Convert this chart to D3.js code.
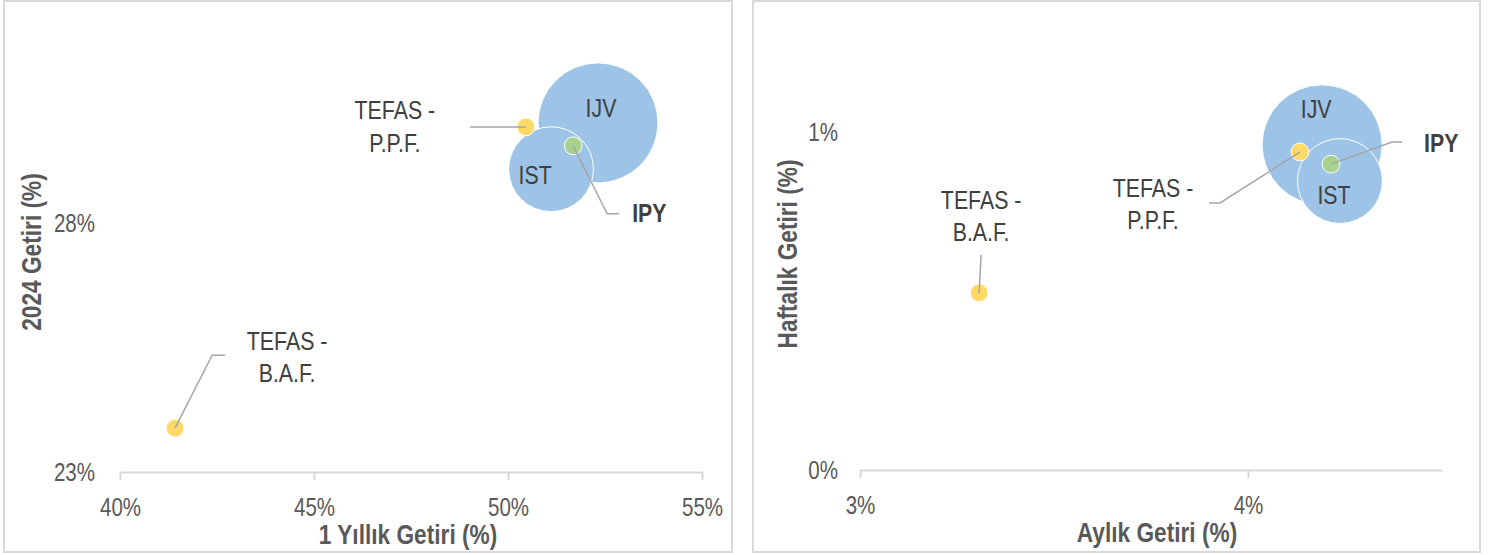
<!DOCTYPE html>
<html>
<head>
<meta charset="utf-8">
<script src="https://cdn.jsdelivr.net/npm/d3@7"></script>
<style>
  body { margin: 0; background: #fff; }
  svg text { font-family: "Liberation Sans", Arial, sans-serif; }
</style>
</head>
<body>
<div id="chart"></div>
<script>
// fund names and returns (fractions)
var funds    = ["TEFAS - B.A.F.", "TEFAS - P.P.F.", "IJV", "IST", "IPY"];
var yearly   = [0.4142, 0.5046, 0.5232, 0.5111, 0.5168];   // 1 Yıllık Getiri
var ytd2024  = [0.2388, 0.2993, 0.3001, 0.2908, 0.2955];   // 2024 Getiri
var monthly  = [0.03307, 0.04134, 0.04191, 0.04237, 0.04214]; // Aylık Getiri
var weekly   = [0.00524, 0.00941, 0.00962, 0.00855, 0.00905]; // Haftalık Getiri
var sizes    = [2.2, 2.2, 100, 50, 2.2];                    // bubble size
var kinds    = ["tefas", "tefas", "etf", "etf", "ipy"];

var leftXTicks  = [0.40, 0.45, 0.50, 0.55];
var leftYTicks  = [0.23, 0.28];
var rightXTicks = [0.03, 0.04];
var rightYTicks = [0, 0.01];

var colour = { tefas: "#ffd966", etf: "#9dc3e6", ipy: "#a9d18e" };

var width = 1494, height = 555;

var svg = d3.select("#chart").append("svg")
    .attr("width", width)
    .attr("height", height);

var rScale = d3.scaleSqrt().domain([0, 100]).range([0, 60]);

// label placement, pixel offsets from each bubble centre
var leftLabels = [
  { lines: ["TEFAS -", "B.A.F."], dx: 112, dy: [-87, -55], anchor: "middle", leader: [[37, -73], [50, -73]] },
  { lines: ["TEFAS -", "P.P.F."], dx: -131, dy: [-17, 16], anchor: "middle", leader: [[-56, 0]] },
  { lines: ["IJV"], dx: 3, dy: [-15], anchor: "middle" },
  { lines: ["IST"], dx: -16, dy: [6], anchor: "middle" },
  { lines: ["IPY"], dx: 59, dy: [67], anchor: "start", bold: true, leader: [[34, 68], [46, 68]] }
];
var rightLabels = [
  { lines: ["TEFAS -", "B.A.F."], dx: 2, dy: [-93, -61], anchor: "middle", leader: [[2, -38]] },
  { lines: ["TEFAS -", "P.P.F."], dx: -147, dy: [36, 68], anchor: "middle", leader: [[-80, 51], [-91, 51]] },
  { lines: ["IJV"], dx: -6, dy: [-36], anchor: "middle" },
  { lines: ["IST"], dx: -6, dy: [14], anchor: "middle" },
  { lines: ["IPY"], dx: 93, dy: [-21], anchor: "start", bold: true, leader: [[61, -22], [71, -22]] }
];

// Liberation Sans squeezed sideways, to look like the narrow font of the original
function narrowText(g, x, y, squeeze, rot) {
  return g.append("text")
    .attr("transform", "translate(" + x + "," + y + ")" + (rot ? " rotate(" + rot + ")" : "") + " scale(" + squeeze + ",1)");
}

function drawPanel(opt) {
  var g = svg.append("g");

  g.append("rect")
    .attr("x", opt.box[0]).attr("y", opt.box[1])
    .attr("width", opt.box[2]).attr("height", opt.box[3])
    .attr("fill", "#fff")
    .attr("stroke", "#d9d9d9")
    .attr("stroke-width", 2);

  var x = d3.scaleLinear().domain(opt.xDomain).range(opt.xRange);
  var y = d3.scaleLinear().domain(opt.yDomain).range(opt.yRange);
  var fmt = d3.format(".0%");
  var tickSq = 0.79;

  var xAxis = g.append("g")
    .attr("transform", "translate(0," + opt.yRange[0] + ")")
    .call(d3.axisBottom(x).tickValues(opt.xTicks).tickFormat(fmt)
      .tickSizeInner(8).tickSizeOuter(0).tickPadding(opt.xPad));
  xAxis.select(".domain").attr("stroke", "#d9d9d9").attr("stroke-width", 2);
  xAxis.selectAll(".tick line").attr("stroke", "#d9d9d9").attr("stroke-width", 2);
  xAxis.selectAll("text")
    .attr("fill", "#595959").style("font-size", "26px")
    .attr("transform", "scale(" + tickSq + ",1)");

  var yAxis = g.append("g")
    .attr("transform", "translate(" + opt.xRange[0] + ",0)")
    .call(d3.axisLeft(y).tickValues(opt.yTicks).tickFormat(fmt)
      .tickSize(0).tickPadding(opt.yPad));
  yAxis.select(".domain").remove();
  yAxis.selectAll("text")
    .attr("fill", "#595959").style("font-size", "26px")
    .attr("x", -opt.yPad / tickSq)
    .attr("transform", "scale(" + tickSq + ",1)");

  // axis titles
  narrowText(g, opt.xTitle[0], opt.xTitle[1], 0.84)
    .attr("text-anchor", "middle")
    .attr("fill", "#595959")
    .style("font-size", "27px").style("font-weight", "bold")
    .text(opt.xLabel);
  narrowText(g, opt.yTitle[0], opt.yTitle[1], 0.84, -90)
    .attr("text-anchor", "middle")
    .attr("dy", "0.35em")
    .attr("fill", "#595959")
    .style("font-size", "27px").style("font-weight", "bold")
    .text(opt.yLabel);

  var points = funds.map(function(d, i) {
    return { name: d, x: opt.xs[i], y: opt.ys[i], size: sizes[i], kind: kinds[i], label: opt.labels[i] };
  });
  var sorted = points.slice().sort(function(a, b) { return b.size - a.size; });

  g.selectAll("circle.bubble")
    .data(sorted)
    .enter().append("circle")
    .attr("class", "bubble")
    .attr("cx", function(d) { return x(d.x); })
    .attr("cy", function(d) { return y(d.y); })
    .attr("r", function(d) { return rScale(d.size); })
    .attr("fill", function(d) { return colour[d.kind]; })
    .attr("stroke", "#fff")
    .attr("stroke-width", 1);

  // leader lines
  points.forEach(function(d) {
    if (!d.label.leader) return;
    var cx = x(d.x), cy = y(d.y);
    var pts = [[cx, cy]].concat(d.label.leader.map(function(p) { return [cx + p[0], cy + p[1]]; }));
    g.append("path")
      .attr("d", d3.line()(pts))
      .attr("fill", "none")
      .attr("stroke", "#a6a6a6")
      .attr("stroke-width", 1.5);
  });

  // labels
  points.forEach(function(d) {
    var cx = x(d.x), cy = y(d.y);
    d.label.lines.forEach(function(line, k) {
      narrowText(g, cx + d.label.dx, cy + d.label.dy[k], 0.82)
        .attr("dy", "0.35em")
        .attr("text-anchor", d.label.anchor)
        .attr("fill", "#404040")
        .style("font-size", "26px")
        .style("font-weight", d.label.bold ? "bold" : "normal")
        .text(line);
    });
  });
}

drawPanel({
  box: [4, 1, 728, 551],
  xDomain: [0.40, 0.55], xRange: [120, 702],
  yDomain: [0.23, 0.28], yRange: [472, 223],
  xTicks: leftXTicks, yTicks: leftYTicks,
  xPad: 18, yPad: 25,
  xs: yearly, ys: ytd2024,
  xLabel: "1 Yıllık Getiri (%)", xTitle: [408, 544],
  yLabel: "2024 Getiri (%)", yTitle: [32, 252],
  labels: leftLabels
});

drawPanel({
  box: [753, 1, 727, 551],
  xDomain: [0.03, 0.045], xRange: [860, 1442],
  yDomain: [0, 0.01], yRange: [470, 132],
  xTicks: rightXTicks, yTicks: rightYTicks,
  xPad: 18, yPad: 22,
  xs: monthly, ys: weekly,
  xLabel: "Aylık Getiri (%)", xTitle: [1157, 542],
  yLabel: "Haftalık Getiri (%)", yTitle: [788, 254],
  labels: rightLabels
});
</script>
</body>
</html>
